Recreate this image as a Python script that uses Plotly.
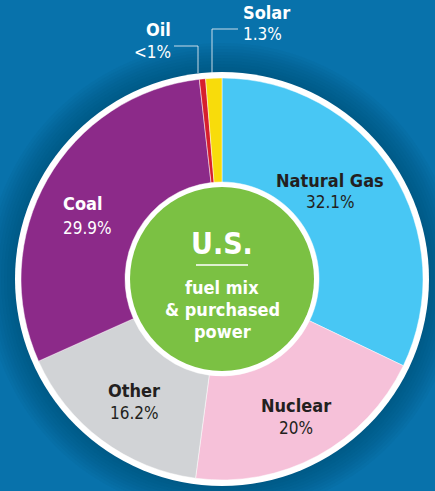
import plotly.graph_objects as go

W, H = 435, 491

categories = ["Natural Gas", "Nuclear", "Other", "Coal", "Oil", "Solar"]
values = [32.1, 20.0, 16.2, 29.9, 0.5, 1.3]
value_labels = ["32.1%", "20%", "16.2%", "29.9%", "<1%", "1.3%"]
colors = ["#48c7f4", "#f6c1d9", "#d1d3d6", "#8c2a89", "#d71f2d", "#f8dc0b"]
label_colors = ["#231f20", "#231f20", "#231f20", "#ffffff", "#ffffff", "#ffffff"]

BG = "#0872ab"
CX, CY = 222, 279       # pie centre in pixels (top-left origin)
R_PIE = 201
R_RING = 207
R_HOLE_WHITE = 97
R_GREEN = 92

def px(x):
    return x / W

def py(y):
    return 1 - y / H

fig = go.Figure()
fig.add_trace(go.Pie(
    labels=categories,
    values=values,
    marker=dict(colors=colors, line=dict(color="rgba(255,255,255,0.6)", width=0.8)),
    sort=False,
    direction="clockwise",
    rotation=0,
    hole=R_HOLE_WHITE / R_PIE,
    textinfo="none",
    hoverinfo="label+value",
    showlegend=False,
    domain=dict(x=[px(CX - R_PIE), px(CX + R_PIE)], y=[py(CY + R_PIE), py(CY - R_PIE)]),
))

def circle(r, color, cx=CX, cy=CY, opacity=1.0):
    return dict(type="circle", xref="paper", yref="paper", layer="below",
                x0=px(cx - r), x1=px(cx + r), y0=py(cy + r), y1=py(cy - r),
                fillcolor=color, line=dict(width=0), opacity=opacity)

shapes = []
# soft shadow around the pie
for r in range(236, 207, -3):
    shapes.append(circle(r, "#02466e", opacity=0.06))
shapes.append(circle(R_RING, "white"))
shapes.append(circle(R_HOLE_WHITE, "white"))
shapes.append(circle(R_GREEN, "#7bc143"))
# underline below U.S.
shapes.append(dict(type="line", xref="paper", yref="paper", layer="above",
                   x0=px(196), x1=px(248), y0=py(265), y1=py(265),
                   line=dict(color="white", width=1.5)))
# leader lines for Oil and Solar
lc = "rgba(235,240,245,0.85)"
shapes.append(dict(type="path", xref="paper", yref="paper", layer="above",
                   path=f"M {px(174)},{py(46)} L {px(198)},{py(46)} L {px(198)},{py(73)}",
                   line=dict(color=lc, width=1)))
shapes.append(dict(type="path", xref="paper", yref="paper", layer="above",
                   path=f"M {px(238)},{py(29)} L {px(212)},{py(29)} L {px(212)},{py(73)}",
                   line=dict(color=lc, width=1)))

BOLD = "DejaVu Sans Condensed"
LIGHT = "DejaVu Sans Condensed"

# label positions (pixels): name centre, value centre, anchor
pos = {
    "Natural Gas": dict(x=330, yn=181, yv=202, anchor="center"),
    "Nuclear": dict(x=296, yn=405, yv=428, anchor="center"),
    "Other": dict(x=134, yn=390, yv=413, anchor="center"),
    "Coal": dict(x=61, yn=204, yv=228, anchor="left"),
    "Oil": dict(x=173, yn=30, yv=52, anchor="right"),
    "Solar": dict(x=241, yn=13, yv=34, anchor="left"),
}

annotations = []
for cat, vl, col in zip(categories, value_labels, label_colors):
    p = pos[cat]
    annotations.append(dict(x=px(p["x"]), y=py(p["yn"]), xref="paper", yref="paper",
                            text=f"<b>{cat}</b>", showarrow=False, xanchor=p["anchor"],
                            yanchor="middle", font=dict(family=BOLD, size=18, color=col)))
    annotations.append(dict(x=px(p["x"]), y=py(p["yv"]), xref="paper", yref="paper",
                            text=vl, showarrow=False, xanchor=p["anchor"],
                            yanchor="middle", font=dict(family=LIGHT, size=17, color=col)))

center_lines = [("U.S.", 243, 30), ("fuel mix", 287, 18), ("& purchased", 309, 18), ("power", 331, 18)]
for t, y, s in center_lines:
    annotations.append(dict(x=px(CX), y=py(y), xref="paper", yref="paper",
                            text=f"<b>{t}</b>", showarrow=False, xanchor="center",
                            yanchor="middle", font=dict(family=BOLD, size=s, color="white")))

fig.update_layout(
    width=W, height=H,
    margin=dict(l=0, r=0, t=0, b=0),
    paper_bgcolor=BG, plot_bgcolor=BG,
    shapes=shapes, annotations=annotations,
)

fig.write_html("out.html", config={"displayModeBar": False},
               post_script="document.body.style.margin='0';")
